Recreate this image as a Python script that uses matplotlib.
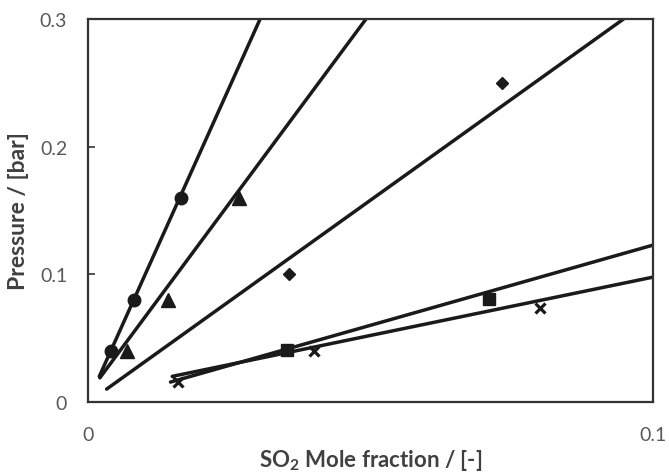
import matplotlib.pyplot as plt
import numpy as np

plt.rcParams['font.family'] = ['Lato', 'DejaVu Sans']
plt.rcParams['mathtext.default'] = 'regular'

# measured points (SO2 mole fraction, pressure in bar)
circle_x = [0.0040, 0.0081, 0.0165]
circle_y = [0.040, 0.080, 0.160]
tri_x = [0.0069, 0.0141, 0.0268]
tri_y = [0.040, 0.080, 0.160]
diam_x = [0.0355, 0.0733]
diam_y = [0.100, 0.250]
square_x = [0.0352, 0.0710]
square_y = [0.041, 0.081]
cross_x = [0.0159, 0.0400, 0.0800]
cross_y = [0.016, 0.040, 0.074]

# fitted lines: slope, intercept, x start
fit_slope = [9.84, 5.97, 3.17, 1.257, 0.914]
fit_icpt = [0.0004, 0.0064, -0.0003, -0.0027, 0.0065]
fit_x0 = [0.0020, 0.0021, 0.0033, 0.0146, 0.0149]

fig = plt.figure(figsize=(6.69, 4.77), dpi=100)
ax = fig.add_axes([0.1315, 0.155, 0.845, 0.803])

for m, b, x0 in zip(fit_slope, fit_icpt, fit_x0):
    xs = np.array([x0, 0.1])
    ax.plot(xs, m * xs + b, color='#1a1a1a', lw=2.5, solid_capstyle='round', zorder=2)

mk = dict(color='#1a1a1a', linestyle='none', zorder=3)
ax.plot(circle_x, circle_y, marker='o', markersize=9, **mk)
ax.plot(tri_x, tri_y, marker='^', markersize=9.5, **mk)
ax.plot(diam_x, diam_y, marker='D', markersize=6.5, **mk)
ax.plot(square_x, square_y, marker='s', markersize=8, **mk)
ax.plot(cross_x, cross_y, marker='x', markersize=7.5, markeredgewidth=2.3, **mk)

ax.set_xlim(0, 0.1)
ax.set_ylim(0, 0.3)
ax.set_xticks([0, 0.1])
ax.set_xticklabels(['0', '0.1'])
ax.set_yticks([0, 0.1, 0.2, 0.3])
ax.set_yticklabels(['0', '0.1', '0.2', '0.3'])
ax.tick_params(axis='x', direction='in', length=0, pad=17, labelsize=14, labelcolor='#595959')
ax.tick_params(axis='y', direction='in', length=5, width=1.2, color='#333333',
               pad=15, labelsize=14, labelcolor='#595959')
for s in ax.spines.values():
    s.set_linewidth(1.6)
    s.set_color('#333333')

ax.set_xlabel('SO$_2$ Mole fraction / [-]', fontsize=16, fontweight='bold',
              color='#404040', labelpad=3)
ax.set_ylabel('Pressure / [bar]', fontsize=16.5, fontweight='bold',
              color='#404040', labelpad=8)

fig.savefig('out.png', dpi=100)
